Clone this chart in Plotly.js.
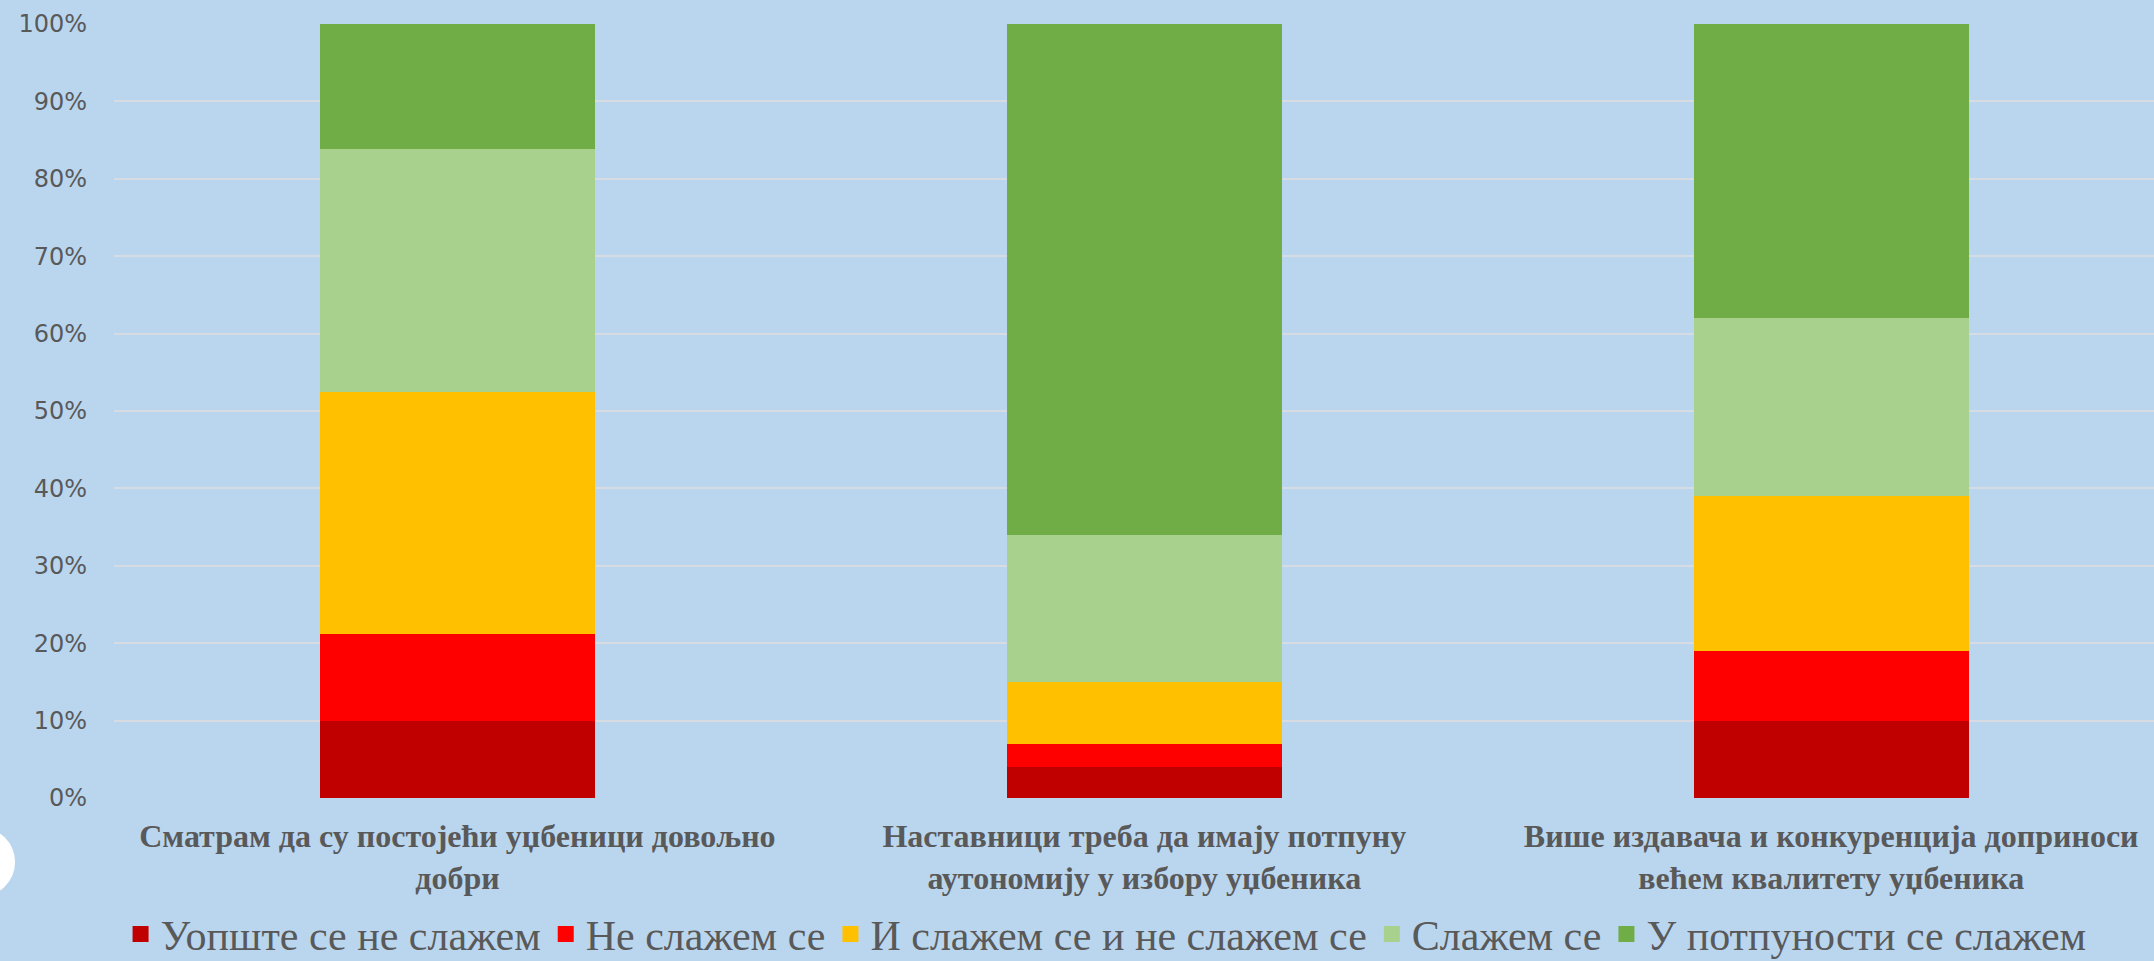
<!DOCTYPE html>
<html>
<head>
<meta charset="utf-8">
<script src="https://cdn.plot.ly/plotly-3.0.1.min.js"></script>
<style>
  html, body { margin: 0; padding: 0; background: #BAD6EF; }
  #chart { width: 2154px; height: 961px; }
</style>
</head>
<body>
<div id="chart"></div>
<script>
// Categories (statements)
const categories = [
  "Сматрам да су постојећи уџбеници довољно<br>добри",
  "Наставници треба да имају потпуну<br>аутономију у избору уџбеника",
  "Више издавача и конкуренција доприноси<br>већем квалитету уџбеника"
];

// Series names (legend)
const seriesNames = [
  "Уопште се не слажем",
  "Не слажем се",
  "И слажем се и не слажем се",
  "Слажем се",
  "У потпуности се слажем"
];

// Series values (percent), per category
const stronglyDisagree = [10.0, 4.0, 10.0];
const disagree         = [11.2, 3.0, 9.0];
const neutral          = [31.3, 8.0, 20.0];
const agree            = [31.3, 19.0, 23.0];
const stronglyAgree    = [16.2, 66.0, 38.0];

const seriesValues = [stronglyDisagree, disagree, neutral, agree, stronglyAgree];
const seriesColors = ["#C00000", "#FF0000", "#FFC000", "#A9D18E", "#70AD47"];

const yTickVals = [0, 10, 20, 30, 40, 50, 60, 70, 80, 90, 100];
const yTickText = ["0%", "10%", "20%", "30%", "40%", "50%", "60%", "70%", "80%", "90%", "100%"];

const traces = [];
seriesValues.forEach((vals, i) => {
  traces.push({
    type: "bar",
    x: categories,
    y: vals,
    name: seriesNames[i],
    marker: { color: seriesColors[i], line: { width: 0 } },
    showlegend: false,
    hoverinfo: "x+y+name"
  });
});
// legend entries (larger square swatches)
seriesNames.forEach((name, i) => {
  traces.push({
    type: "scatter",
    mode: "markers",
    x: [categories[0]],
    y: [null],
    name: name,
    marker: { symbol: "square", size: 19, color: seriesColors[i] },
    showlegend: true,
    hoverinfo: "skip"
  });
});

const textColor = "#595959";

const layout = {
  width: 2154,
  height: 961,
  paper_bgcolor: "#BAD6EF",
  plot_bgcolor: "#BAD6EF",
  margin: { l: 114, r: 0, t: 24, b: 163, pad: 0, autoexpand: false },
  barmode: "stack",
  bargap: 0.6,
  showlegend: true,
  xaxis: {
    type: "category",
    range: [-0.5, 2.47],
    showgrid: false,
    zeroline: false,
    showline: false,
    ticks: "",
    automargin: false,
    ticklabelstandoff: 16,
    tickfont: { family: "Liberation Serif, Times New Roman, serif", size: 32, color: textColor, weight: "bold" },
    fixedrange: true
  },
  yaxis: {
    range: [0, 100],
    tickmode: "array",
    tickvals: yTickVals,
    ticktext: yTickText,
    showgrid: true,
    gridcolor: "#D6DCE2",
    gridwidth: 2,
    zeroline: false,
    showline: false,
    ticks: "",
    automargin: false,
    ticklabelstandoff: 26,
    tickfont: { family: "DejaVu Sans, sans-serif", size: 24, color: textColor },
    fixedrange: true
  },
  legend: {
    orientation: "h",
    xref: "container",
    yref: "container",
    x: 0.5135,
    xanchor: "center",
    y: 0.028,
    yanchor: "middle",
    font: { family: "Liberation Serif, Times New Roman, serif", size: 42, color: textColor },
    bgcolor: "rgba(0,0,0,0)",
    itemwidth: 30,
    traceorder: "normal"
  },
  shapes: [
    {
      type: "circle",
      xref: "paper",
      yref: "paper",
      x0: -0.0825,
      x1: -0.0485,
      y0: -0.1274,
      y1: -0.038,
      fillcolor: "#FFFFFF",
      line: { width: 0 },
      layer: "above"
    }
  ]
};

Plotly.newPlot("chart", traces, layout, { displayModeBar: false, staticPlot: true });
</script>
</body>
</html>
